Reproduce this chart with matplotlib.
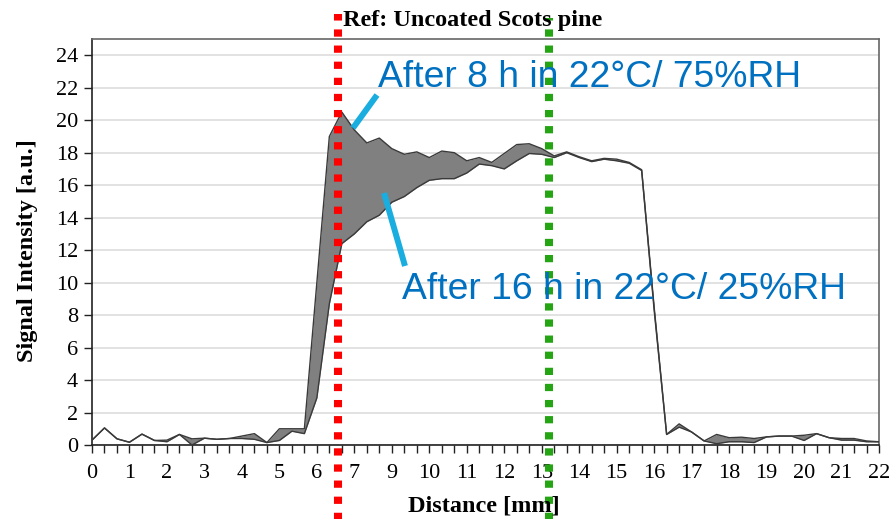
import matplotlib

matplotlib.use("Agg")
import matplotlib.pyplot as plt  # noqa: E402
from matplotlib.lines import Line2D  # noqa: E402

SERIF = "Liberation Serif"
SANS = "Liberation Sans"
BLUE = "#0070C0"
LEADER = "#1AADE0"

# ---- data: signal profile across the sample, one value per measurement step ----
# after 8 h in 22 °C / 75 %RH (upper curve)
humid_8h = [0.3, 1.05, 0.38, 0.17, 0.67, 0.28, 0.3, 0.65, 0.38, 0.42,
            0.35, 0.4, 0.55, 0.7, 0.15, 1.0, 1.0, 1.0, 10.0, 19.0,
            20.5, 19.4, 18.6, 18.9, 18.25, 17.9, 18.05, 17.7, 18.1, 18.0,
            17.5, 17.7, 17.4, 17.95, 18.5, 18.55, 18.25, 17.8, 18.05, 17.75,
            17.5, 17.65, 17.6, 17.4, 16.95, 8.5, 0.65, 1.3, 0.8, 0.25,
            0.65, 0.45, 0.48, 0.4, 0.5, 0.55, 0.55, 0.6, 0.7, 0.45,
            0.4, 0.4, 0.25, 0.2]
# after 16 h in 22 °C / 25 %RH (lower curve)
dry_16h = [0.3, 1.05, 0.38, 0.17, 0.67, 0.28, 0.2, 0.65, 0.0, 0.42,
           0.35, 0.4, 0.4, 0.35, 0.15, 0.28, 0.85, 0.7, 2.9, 8.7,
           12.4, 13.0, 13.75, 14.15, 14.95, 15.3, 15.85, 16.3, 16.4, 16.4,
           16.75, 17.3, 17.2, 17.0, 17.5, 17.95, 17.9, 17.7, 18.0, 17.7,
           17.45, 17.6, 17.5, 17.35, 16.9, 8.3, 0.65, 1.1, 0.8, 0.25,
           0.08, 0.2, 0.2, 0.15, 0.5, 0.55, 0.55, 0.28, 0.7, 0.45,
           0.3, 0.3, 0.2, 0.2]
steps = list(range(len(humid_8h)))

# category-style axis: a label on every third step ("8" is absent in the original)
dist_labels = ["0", "1", "2", "3", "4", "5", "6", "7", "9", "10", "11",
               "12", "13", "14", "15", "16", "17", "18", "19", "20", "21", "22"]
dist_ticks = steps[::3]
y_ticks = list(range(0, 25, 2))

# positions (in steps) of the two dotted marker lines
red_mark = 19.7
green_mark = 36.6

fig = plt.figure(figsize=(8.95, 5.19), dpi=100)
ax = fig.add_axes([92 / 895, 1 - 445 / 519, 787 / 895, 406 / 519])

ax.fill_between(steps, dry_16h, humid_8h, color="#808080", lw=0, zorder=2)
ax.plot(steps, humid_8h, color="#3a3a3a", lw=1.0, zorder=3)
ax.plot(steps, dry_16h, color="#3a3a3a", lw=1.0, zorder=3)

ax.set_xlim(0, steps[-1])
ax.set_ylim(0, 25)
ax.set_xticks(steps, minor=True)
ax.set_xticks(dist_ticks)
ax.set_xticklabels(dist_labels, fontfamily=SERIF, fontsize=16)
ax.set_yticks(y_ticks)
ax.set_yticklabels([str(v) for v in y_ticks], fontfamily=SERIF, fontsize=16)
ax.tick_params(axis="x", which="both", direction="out", length=6, width=1, color="#222222", pad=8)
ax.tick_params(axis="y", direction="out", length=6, width=1, color="#222222", pad=4)
ax.grid(axis="y", color="#e2e2e2", lw=1.4)
ax.set_axisbelow(True)
for side in ("left", "bottom"):
    ax.spines[side].set_color("#222222")
    ax.spines[side].set_linewidth(1.2)
for side in ("top", "right"):
    ax.spines[side].set_color("#666666")
    ax.spines[side].set_linewidth(1.2)

# dotted marker lines running past the plot frame
ax.axvline(red_mark, ymin=-0.19, ymax=1.062, color="#FF0000", lw=5.8,
           dashes=(0.9, 1.1), dash_capstyle="butt", clip_on=False, zorder=5)
ax.axvline(green_mark, ymin=-0.19, ymax=1.052, color="#26A514", lw=5.8,
           dashes=(0.9, 1.1), dash_capstyle="butt", clip_on=False, zorder=5)

# titles and axis labels
fig.text(0.5285, 0.95, "Ref: Uncoated Scots pine", ha="center", va="baseline",
         fontfamily=SERIF, fontweight="bold", fontsize=17.5, zorder=1)
fig.text(0.031, 0.518, "Signal Intensity [a.u.]", rotation=90, ha="center", va="center",
         fontfamily=SERIF, fontweight="bold", fontsize=17.5)
fig.text(0.541, 0.014, "Distance [mm]", ha="center", va="baseline",
         fontfamily=SERIF, fontweight="bold", fontsize=17.5)

# curve annotations with leader lines
fig.text(378 / 895, 1 - 87 / 519, "After 8 h in 22°C/ 75%RH", color=BLUE,
         fontfamily=SANS, fontsize=26.8, va="baseline", ha="left")
fig.text(402 / 895, 1 - 299 / 519, "After 16 h in 22°C/ 25%RH", color=BLUE,
         fontfamily=SANS, fontsize=26.8, va="baseline", ha="left")
fig.add_artist(Line2D([377 / 895, 353 / 895], [1 - 95 / 519, 1 - 128 / 519],
                      color=LEADER, lw=4.3, solid_capstyle="butt"))
fig.add_artist(Line2D([384 / 895, 405 / 895], [1 - 193 / 519, 1 - 266 / 519],
                      color=LEADER, lw=4.3, solid_capstyle="butt"))

fig.savefig("out.png", dpi=100)
